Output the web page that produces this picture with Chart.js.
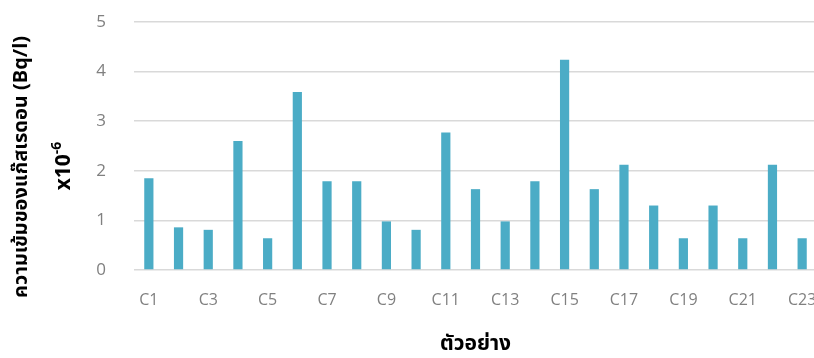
<!DOCTYPE html>
<html>
<head>
<meta charset="utf-8">
<script src="https://cdn.jsdelivr.net/npm/chart.js@4"></script>
<style>
  html, body { margin: 0; padding: 0; background: #fff; overflow: hidden; }
  #wrap { width: 817px; height: 358px; }
</style>
</head>
<body>
<div id="wrap"><canvas id="myChart"></canvas></div>
<script>
const samples = ['C1', 'C2', 'C3', 'C4', 'C5', 'C6', 'C7', 'C8', 'C9', 'C10', 'C11', 'C12',
  'C13', 'C14', 'C15', 'C16', 'C17', 'C18', 'C19', 'C20', 'C21', 'C22', 'C23']
const radon = [1.85, 0.86, 0.81, 2.60, 0.64, 3.59, 1.79, 1.79, 0.98, 0.81, 2.77, 1.63,
  0.98, 1.79, 4.24, 1.63, 2.12, 1.30, 0.64, 1.30, 0.64, 2.12, 0.64]
const yTicks = [0, 1, 2, 3, 4, 5]

const yTitle = 'ความเข้มของแก๊สเรดอน (Bq/l)'
const yUnitBase = 'x10'
const yUnitExp = '-6'
const xTitle = 'ตัวอย่าง'

const thaiFont = '"Noto Sans Thai", "Noto Sans", "DejaVu Sans", sans-serif'

// rotated y title, two lines, drawn by hand so each line sits where it should
const yTitlePlugin = {
  id: 'yTitle',
  afterDraw(chart) {
    const c = chart.ctx
    c.save()
    c.fillStyle = '#000'
    c.textAlign = 'center'
    c.textBaseline = 'middle'
    c.translate(23, 167)
    c.rotate(-Math.PI / 2)
    c.font = 'bold 20px ' + thaiFont
    c.fillText(yTitle, 0, 0)
    c.restore()

    // x10 with a raised -6
    c.save()
    c.fillStyle = '#000'
    c.textAlign = 'left'
    c.textBaseline = 'middle'
    c.translate(66, 166)
    c.rotate(-Math.PI / 2)
    c.font = 'bold 21px ' + thaiFont
    const w1 = c.measureText(yUnitBase).width
    c.font = 'bold 14px ' + thaiFont
    const w2 = c.measureText(yUnitExp).width
    const x0 = -(w1 + w2) / 2
    c.font = 'bold 21px ' + thaiFont
    c.fillText(yUnitBase, x0, 0)
    c.font = 'bold 14px ' + thaiFont
    c.fillText(yUnitExp, x0 + w1, -8)
    c.restore()
  }
}

const data = {
  labels: samples,
  datasets: [{
    label: 'Radon',
    data: radon,
    backgroundColor: '#4BACC6',
    borderWidth: 0,
    barPercentage: 0.31,
    categoryPercentage: 1.0,
  }]
}

const config = {
  type: 'bar',
  data: data,
  options: {
    responsive: true,
    maintainAspectRatio: false,
    animation: false,
    layout: {
      padding: { left: 0, right: 0, top: 22, bottom: 0 }
    },
    plugins: {
      legend: { display: false },
      tooltip: { enabled: false }
    },
    scales: {
      x: {
        grid: { display: false, drawTicks: false },
        border: { display: false },
        ticks: {
          autoSkip: false,
          maxRotation: 0,
          padding: 21,
          color: '#808080',
          font: { family: '"Open Sans", sans-serif', size: 16 },
          callback: function (val, i) {
            return i % 2 === 0 ? this.getLabelForValue(val) : ''
          }
        },
        title: {
          display: true,
          text: xTitle,
          color: '#000',
          font: { family: thaiFont, size: 21, weight: 'bold' },
          padding: { top: 0, bottom: 0 }
        },
        afterFit(scale) {
          scale.height = 88
          scale.paddingLeft = 0
          scale.paddingRight = 0
        }
      },
      y: {
        min: 0,
        max: 5,
        afterBuildTicks(scale) {
          scale.ticks = yTicks.map(v => ({ value: v }))
        },
        grid: { color: '#d9d9d9', lineWidth: 1.5, drawTicks: false },
        border: { display: false },
        ticks: {
          padding: 28,
          color: '#808080',
          font: { family: '"Open Sans", sans-serif', size: 17 }
        },
        afterFit(scale) {
          scale.width = 134
          scale.paddingTop = 0
          scale.paddingBottom = 0
        }
      }
    }
  },
  plugins: [yTitlePlugin]
}

const myChart = new Chart(document.querySelector('#myChart'), config)
</script>
</body>
</html>
